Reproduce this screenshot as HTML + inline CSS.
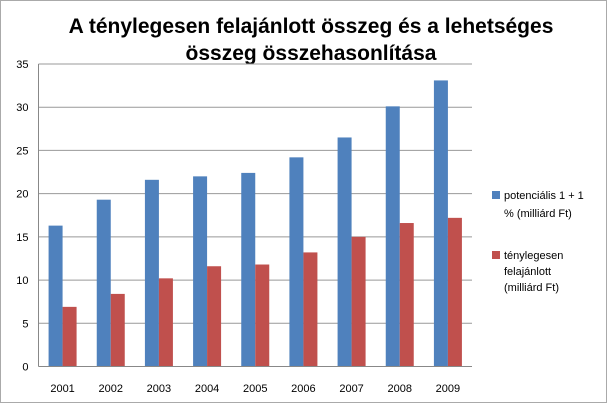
<!DOCTYPE html>
<html><head><meta charset="utf-8"><style>
body{margin:0;background:#fff;}
svg{display:block;font-family:"Liberation Sans",sans-serif;}
</style></head><body>
<svg id="c" width="607" height="403">
<rect x="0.5" y="0.5" width="606" height="402" fill="#fff" stroke="#555" stroke-dasharray="1,1"/>
<text x="311" y="33" text-anchor="middle" font-size="21" font-weight="bold">A ténylegesen felajánlott összeg és a lehetséges</text>
<text x="311" y="60" text-anchor="middle" font-size="21" font-weight="bold">összeg összehasonlítása</text>
<g id="plot"></g>
<g>
<rect x="492" y="191" width="8" height="8" fill="#4f81bd"/>
<text x="504" y="199" font-size="11">potenciális 1 + 1</text>
<text x="504" y="217" font-size="11">% (milliárd Ft)</text>
<rect x="492" y="251" width="8" height="8" fill="#c0504d"/>
<text x="504" y="259" font-size="11">ténylegesen</text>
<text x="504" y="275" font-size="11">felajánlott</text>
<text x="504" y="291" font-size="11">(milliárd Ft)</text>
</g>
</svg>
<script>
const categories=["2001","2002","2003","2004","2005","2006","2007","2008","2009"];
const potential=[16.3,19.3,21.6,22,22.4,24.2,26.5,30.1,33.1];
const actual=[6.9,8.4,10.2,11.6,11.8,13.2,15,16.6,17.2];
const yTicks=[0,5,10,15,20,25,30,35];
const NS="http://www.w3.org/2000/svg";
const g=document.getElementById('plot');
const x0=38.5,x1=472,yb=366.5,yt=64,ymax=35;
const y=v=>yb-(v/ymax)*(yb-yt);
const cw=(x1-x0)/categories.length;
const xc=i=>x0+cw*(i+0.5);
function mk(t,a){const e=document.createElementNS(NS,t);for(const k in a)e.setAttribute(k,a[k]);g.appendChild(e);return e;}
yTicks.forEach(v=>{
 const l=mk('line',{x1:x0,x2:x1,y1:y(v),y2:y(v),stroke:'#999','stroke-width':1});
 
 
 const t=mk('text',{x:x0-10,y:y(v)+4,'text-anchor':'end','font-size':11});
 t.textContent=v;
 
 
});
const ax=mk('line',{x1:x0,x2:x0,y1:yt,y2:yb,stroke:'#888'});


const bw=14;
categories.forEach((c,i)=>{
 const b1=mk('rect',{x:xc(i)-bw,y:y(potential[i]),width:bw,height:yb-y(potential[i]),fill:'#4f81bd'});
 
 
 const b2=mk('rect',{x:xc(i),y:y(actual[i]),width:bw,height:yb-y(actual[i]),fill:'#c0504d'});
 
 
 const t=mk('text',{x:xc(i),y:392,'text-anchor':'middle','font-size':11});
 t.textContent=c;
 
 
});
const xa=mk('line',{x1:x0,x2:x1,y1:yb,y2:yb,stroke:'#888'});


</script>
</body></html>
